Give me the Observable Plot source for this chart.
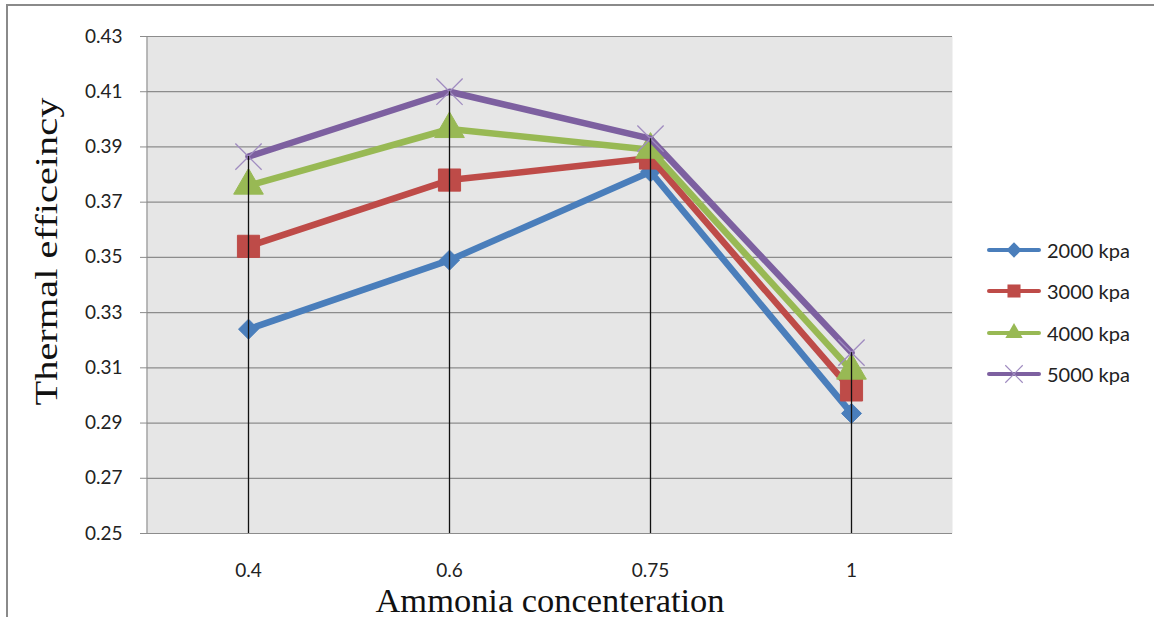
<!DOCTYPE html>
<html>
<head>
<meta charset="utf-8">
<script src="https://cdn.jsdelivr.net/npm/d3@7"></script>
<script src="https://cdn.jsdelivr.net/npm/@observablehq/plot@0.6"></script>
<style>
  html, body { margin: 0; padding: 0; background: #fff; }
  #wrap { position: relative; width: 1154px; height: 617px; overflow: hidden; }
  #frame { position: absolute; left: 6px; top: 4px; width: 1160px; height: 640px; border: 2px solid #8a8a8a; box-sizing: border-box; pointer-events: none; }
  #legend { position: absolute; left: 986px; top: 229px; font-family: Lato, "Open Sans", sans-serif; font-size: 20px; color: #222; }
  #legend .item { display: flex; align-items: center; height: 41.5px; }
  #legend svg { margin-right: 5px; }
</style>
</head>
<body>
<div id="wrap">
  <div id="chart"></div>
  <div id="legend"></div>
  <div id="frame"></div>
</div>
<script>
const categories = ["0.4", "0.6", "0.75", "1"];
const seriesNames = ["2000 kpa", "3000 kpa", "4000 kpa", "5000 kpa"];
const s2000 = [0.324, 0.349, 0.381, 0.2935];
const s3000 = [0.354, 0.378, 0.386, 0.302];
const s4000 = [0.376, 0.3965, 0.389, 0.309];
const s5000 = [0.3865, 0.410, 0.393, 0.3155];
const yTicks = [0.25, 0.27, 0.29, 0.31, 0.33, 0.35, 0.37, 0.39, 0.41, 0.43];
const xTitle = "Ammonia concenteration";
const yTitle = "Thermal efficeincy";

const colors = ["#4a7ebb", "#be4b48", "#98b954", "#7d60a0"];
const symbols = ["diamond2", "square", "triangle", "times"];
const radii = [9, 12.5, 11, 12];

const allSeries = [s2000, s3000, s4000, s5000];
const rows = [];
allSeries.forEach((vals, si) => {
  vals.forEach((v, ci) => rows.push({series: seriesNames[si], si, cat: categories[ci], value: v}));
});
const maxes = categories.map((c, ci) => ({cat: c, top: d3.max(allSeries, s => s[ci])}));

const seriesMarks = [];
seriesNames.forEach((name, si) => {
  const d = rows.filter(r => r.si === si);
  seriesMarks.push(Plot.line(d, {x: "cat", y: "value", stroke: colors[si], strokeWidth: 6.5, strokeLinejoin: "round", strokeLinecap: "round"}));
  if (symbols[si] === "times") {
    seriesMarks.push(Plot.dot(d, {x: "cat", y: "value", symbol: "times", r: radii[si], stroke: "#a08cc0", strokeWidth: 1.3, fill: "none"}));
  } else {
    seriesMarks.push(Plot.dot(d, {x: "cat", y: "value", symbol: symbols[si], r: radii[si], fill: colors[si], stroke: colors[si], strokeWidth: 1}));
  }
});

const chart = Plot.plot({
  width: 1154,
  height: 617,
  marginLeft: 147,
  marginRight: 202,
  marginTop: 36,
  marginBottom: 84,
  style: {background: "transparent", fontFamily: "Lato, 'Open Sans', sans-serif", fontSize: "19px", color: "#222"},
  x: {type: "point", domain: categories, padding: 0.5, label: null},
  y: {domain: [0.25, 0.43], label: null},
  marks: [
    Plot.frame({fill: "#e6e6e6", stroke: null}),
    Plot.ruleY(yTicks, {stroke: "#8c8c8c", strokeWidth: 1.2}),
    ...seriesMarks,
    Plot.ruleX(maxes, {x: "cat", y1: 0.25, y2: "top", stroke: "#111", strokeWidth: 1.3}),
    Plot.axisY({ticks: yTicks, tickFormat: d3.format(".2f"), tickSize: 7, tickPadding: 18, stroke: "#8c8c8c", fontSize: 19, fill: "#222"}),
    Plot.axisX({tickSize: 0, tickPadding: 30, fontSize: 19, fill: "#222"}),
    Plot.ruleY([0.25], {stroke: "#8c8c8c", strokeWidth: 1.2}),
    Plot.text([xTitle], {frameAnchor: "bottom", dy: 78, fontFamily: "'Liberation Serif', 'Times New Roman', serif", fontSize: 34, fill: "#111", lineAnchor: "bottom", className: "xtitle"}),
    Plot.text([yTitle], {frameAnchor: "top-left", dx: -113, dy: 215, textAnchor: "middle", rotate: -90, fontFamily: "'Liberation Serif', 'Times New Roman', serif", fontSize: 31, fill: "#111", className: "ytitle"})
  ]
});
document.getElementById("chart").appendChild(chart);

// y axis line along the left edge of the plot area
const ys = chart.scale("y");
d3.select(chart).append("line")
  .attr("x1", 147).attr("x2", 147)
  .attr("y1", ys.apply(0.25)).attr("y2", ys.apply(0.43))
  .attr("stroke", "#8c8c8c").attr("stroke-width", 1.2);

// stretch the titles to match the reference proportions
d3.select(chart).select(".ytitle text").attr("textLength", 308).attr("lengthAdjust", "spacingAndGlyphs");
d3.select(chart).select(".xtitle text").attr("textLength", 349).attr("lengthAdjust", "spacingAndGlyphs");

// Legend
const legend = d3.select("#legend");
seriesNames.forEach((name, si) => {
  const item = legend.append("div").attr("class", "item");
  const s = item.append("svg").attr("width", 56).attr("height", 24);
  s.append("line").attr("x1", 3).attr("x2", 53).attr("y1", 12).attr("y2", 12)
    .attr("stroke", colors[si]).attr("stroke-width", 4).attr("stroke-linecap", "round");
  const sym = {diamond2: d3.symbolDiamond2, square: d3.symbolSquare, triangle: d3.symbolTriangle, times: d3.symbolTimes}[symbols[si]];
  const sizes = [150, 170, 130, 200];
  const p = s.append("path").attr("transform", "translate(28,12)").attr("d", d3.symbol(sym, sizes[si])());
  if (symbols[si] === "times") p.attr("fill", "none").attr("stroke", "#a08cc0").attr("stroke-width", 1.2);
  else p.attr("fill", colors[si]);
  item.append("span").text(name);
});
</script>
</body>
</html>
